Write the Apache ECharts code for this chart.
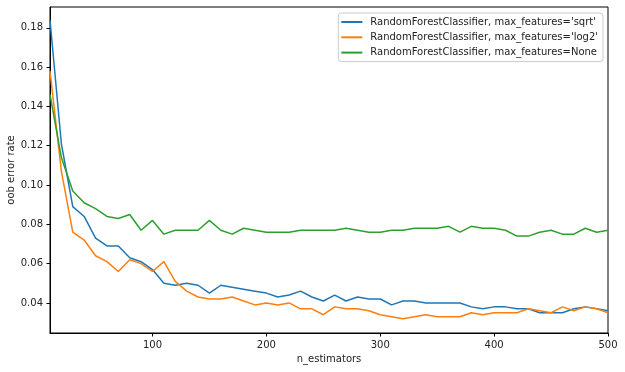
<!DOCTYPE html>
<html>
<head>
<meta charset="utf-8">
<script src="https://cdn.jsdelivr.net/npm/echarts@6/dist/echarts.min.js"></script>
<style>html,body{margin:0;padding:0;background:#fff;}#c{width:625px;height:372px;}</style>
</head>
<body>
<div id="c"></div>
<script>
const nEstimators = [10,20,30,40,50,60,70,80,90,100,110,120,130,140,150,160,170,180,190,200,210,220,230,240,250,260,270,280,290,300,310,320,330,340,350,360,370,380,390,400,410,420,430,440,450,460,470,480,490,500];
const errSqrt = [0.184,0.121,0.089,0.084,0.073,0.069,0.069,0.063,0.061,0.057,0.050,0.049,0.050,0.049,0.045,0.049,0.048,0.047,0.046,0.045,0.043,0.044,0.046,0.043,0.041,0.044,0.041,0.043,0.042,0.042,0.039,0.041,0.041,0.040,0.040,0.040,0.040,0.038,0.037,0.038,0.038,0.037,0.037,0.035,0.035,0.035,0.037,0.038,0.037,0.036];
const errLog2 = [0.158,0.107,0.076,0.072,0.064,0.061,0.056,0.062,0.060,0.056,0.061,0.051,0.046,0.043,0.042,0.042,0.043,0.041,0.039,0.040,0.039,0.040,0.037,0.037,0.034,0.038,0.037,0.037,0.036,0.034,0.033,0.032,0.033,0.034,0.033,0.033,0.033,0.035,0.034,0.035,0.035,0.035,0.037,0.036,0.035,0.038,0.036,0.038,0.037,0.035];
const errNone = [0.146,0.114,0.097,0.091,0.088,0.084,0.083,0.085,0.077,0.082,0.075,0.077,0.077,0.077,0.082,0.077,0.075,0.078,0.077,0.076,0.076,0.076,0.077,0.077,0.077,0.077,0.078,0.077,0.076,0.076,0.077,0.077,0.078,0.078,0.078,0.079,0.076,0.079,0.078,0.078,0.077,0.074,0.074,0.076,0.077,0.075,0.075,0.078,0.076,0.077];
const seriesNames = ["RandomForestClassifier, max_features='sqrt'","RandomForestClassifier, max_features='log2'","RandomForestClassifier, max_features=None"];
const xTicks = [100,200,300,400,500];
const yTicks = [0.04,0.06,0.08,0.10,0.12,0.14,0.16,0.18];
const colors = ['#1f77b4','#ff7f0e','#2ca02c'];

const font = 'DejaVu Sans';
const pair = (ys) => nEstimators.map((x,i)=>[x, ys[i]]);
const chart = echarts.init(document.getElementById('c'), null, {renderer:'canvas'});
chart.setOption({
  animation:false,
  color: colors,
  grid:{left:50,right:17,top:7,bottom:39,outerBoundsMode:'none',containLabel:false,show:true,borderColor:'#000',borderWidth:1,backgroundColor:'transparent'},
  legend:{
    orient:'vertical', right:22, top:13,
    icon:'rect', itemWidth:21, itemHeight:2, itemGap:3.3,
    padding:[3,5,3,3],
    borderColor:'#cccccc', borderWidth:1, borderRadius:3,
    backgroundColor:'rgba(255,255,255,0.8)',
    textStyle:{fontFamily:font,fontSize:10,color:'#222',lineHeight:12,padding:[0,0,0,3]},
    data: seriesNames
  },
  xAxis:{
    type:'value', min:10, max:500,
    name:'n_estimators', nameLocation:'middle', nameGap:21, nameMoveOverlap:false,
    nameTextStyle:{fontFamily:font,fontSize:10,color:'#222'},
    axisLine:{show:true,onZero:false,lineStyle:{color:'#000',width:1}},
    axisTick:{show:true,length:3.5,customValues:xTicks,lineStyle:{color:'#000'}},
    axisLabel:{customValues:xTicks,margin:7,fontFamily:font,fontSize:10,color:'#222'},
    splitLine:{show:false}
  },
  yAxis:{
    type:'value', min:0.0247, max:0.1906,
    name:'oob error rate', nameLocation:'middle', nameGap:34, nameMoveOverlap:false,
    nameTextStyle:{fontFamily:font,fontSize:10,color:'#222'},
    axisLine:{show:true,onZero:false,lineStyle:{color:'#000',width:1}},
    axisTick:{show:true,length:3.5,customValues:yTicks,lineStyle:{color:'#000'}},
    axisLabel:{customValues:yTicks,margin:7,fontFamily:font,fontSize:10,color:'#222',formatter:(v)=>v.toFixed(2)},
    splitLine:{show:false}
  },
  series:[errSqrt,errLog2,errNone].map((ys,i)=>({
    name:seriesNames[i], type:'line', data:pair(ys), symbol:'none',
    lineStyle:{width:1.5,color:colors[i]}, itemStyle:{color:colors[i]}
  }))
});
</script>
</body>
</html>
